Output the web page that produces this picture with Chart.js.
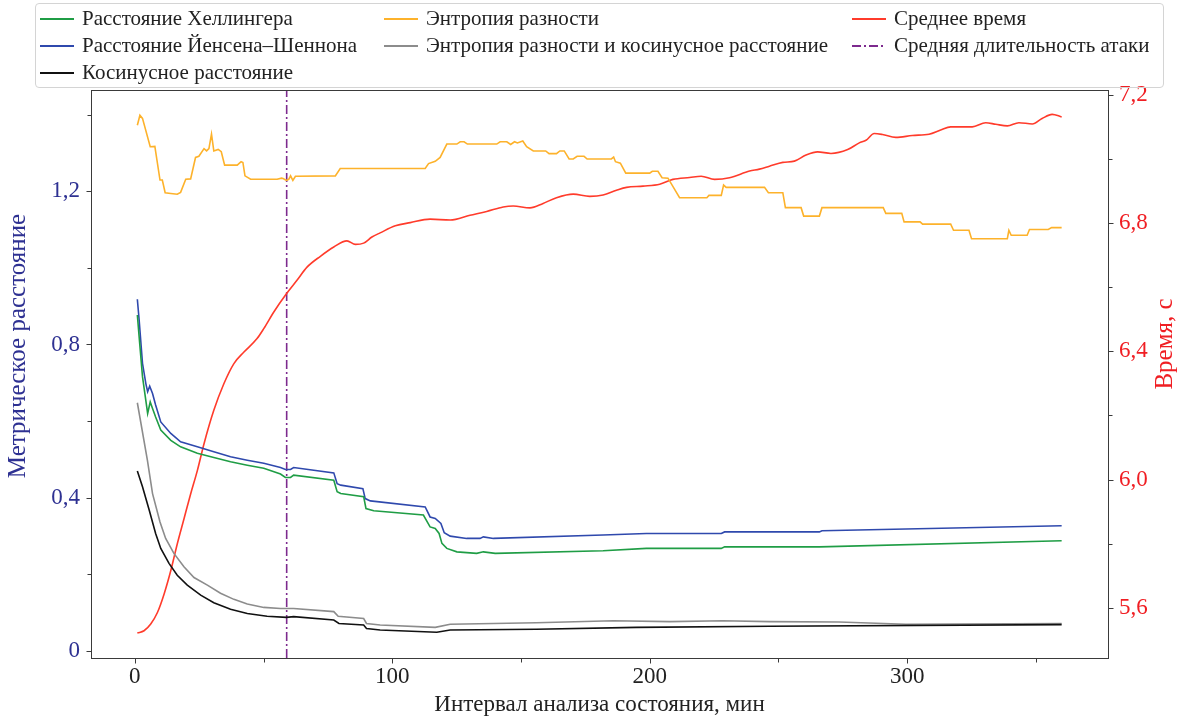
<!DOCTYPE html>
<html>
<head>
<meta charset="utf-8">
<script src="https://cdn.jsdelivr.net/npm/chart.js@4.4.1/dist/chart.umd.min.js"></script>
<style>
    body { margin: 0; background: #fff; }
    #wrap { position: relative; width: 1182px; height: 719px; }
    #legend {
        position: absolute; left: 35px; top: 3px; width: 1129px; height: 85px;
        border: 1px solid #d4d4d4; border-radius: 4px; box-sizing: border-box;
        font-family: "Liberation Serif", serif; font-size: 21px; color: #222;
        display: grid; grid-template-columns: 344px 468px auto;
        grid-template-rows: repeat(3, 27px);
        padding: 1px 0 0 4px; background: transparent;
    }
    .item { display: flex; align-items: center; white-space: nowrap; }
    .item svg { margin-right: 8px; flex: none; }
</style>
</head>
<body>
<div id="wrap">
    <canvas id="chart" width="1182" height="719"></canvas>
    <div id="legend"></div>
</div>
<script>
// x = interval of state analysis, min
const hellinger = [[1,0.877],[1.7,0.820],[3,0.716],[5,0.620],[6,0.650],[6.9,0.633],[8.1,0.611],[10.1,0.577],[14,0.550],[17.8,0.533],[24.3,0.516],[30.7,0.505],[37.2,0.494],[43.7,0.485],[50.1,0.477],[56.6,0.462],[58.5,0.453],[60.5,0.453],[61.7,0.459],[77.3,0.446],[78.6,0.416],[80,0.411],[88.9,0.403],[89.8,0.372],[92.8,0.366],[112.1,0.355],[114.7,0.324],[116.7,0.320],[118.2,0.307],[119.3,0.281],[121.2,0.268],[125.1,0.259],[132.8,0.255],[135.4,0.259],[140,0.255],[181.9,0.262],[198.7,0.268],[227.8,0.268],[229.1,0.272],[265.9,0.272],[360,0.288]];
const jensenShannon = [[1,0.918],[1.7,0.864],[3,0.751],[4.3,0.698],[5,0.677],[5.8,0.691],[6.9,0.672],[8.1,0.642],[10.1,0.598],[14,0.568],[17.8,0.546],[24.3,0.533],[30.7,0.520],[37.2,0.507],[43.7,0.498],[50.1,0.490],[56.6,0.479],[58.5,0.474],[60.5,0.474],[61.7,0.479],[77.3,0.465],[78.6,0.437],[80,0.433],[88.6,0.424],[89.5,0.398],[91.5,0.392],[112.8,0.376],[114.7,0.350],[116.7,0.346],[118.9,0.333],[120.2,0.309],[122.5,0.300],[128.9,0.294],[134.1,0.294],[135.4,0.298],[139.3,0.294],[181.9,0.303],[198.7,0.307],[227.8,0.307],[229.1,0.311],[265.9,0.311],[266.9,0.314],[360,0.327]];
const cosine = [[1,0.470],[3,0.429],[5.6,0.368],[8.1,0.307],[10.1,0.268],[13.3,0.229],[16.5,0.198],[20.4,0.172],[25.6,0.146],[30.7,0.126],[37.2,0.109],[43.7,0.098],[51.4,0.091],[58.9,0.088],[61.7,0.090],[77.3,0.081],[79.3,0.072],[88.9,0.068],[90,0.059],[95.3,0.055],[117.3,0.049],[122.5,0.055],[156,0.057],[194.8,0.062],[246.5,0.065],[360,0.069]];
const entropyDiff = [[1,1.372],[2,1.398],[3,1.390],[6,1.316],[7.8,1.317],[9.8,1.229],[10.7,1.229],[11.8,1.196],[14,1.194],[16.5,1.192],[17.8,1.197],[19.8,1.231],[21.7,1.232],[23.6,1.288],[24.9,1.291],[26.9,1.311],[27.9,1.305],[28.8,1.311],[29.8,1.349],[30.7,1.305],[32.4,1.309],[33.6,1.303],[34.9,1.268],[39.8,1.268],[41.3,1.277],[42,1.275],[42.8,1.240],[45,1.231],[55.3,1.231],[57,1.234],[57.6,1.233],[58.9,1.228],[59.8,1.231],[60.5,1.240],[61.4,1.228],[62.4,1.239],[77.9,1.240],[79.8,1.259],[112.8,1.259],[114.1,1.272],[116.7,1.278],[118.6,1.288],[121.2,1.323],[125.1,1.323],[126.4,1.329],[127.9,1.329],[129.2,1.323],[140.6,1.323],[141.9,1.329],[144.5,1.329],[146,1.322],[147.5,1.329],[148.6,1.326],[150.7,1.331],[152.2,1.316],[154.8,1.305],[159.6,1.305],[160.9,1.298],[163.8,1.298],[165.1,1.305],[166.8,1.305],[168.7,1.284],[170.3,1.284],[171.8,1.291],[174.5,1.291],[175.7,1.284],[185.1,1.284],[186,1.289],[186.7,1.277],[188.6,1.273],[190.7,1.247],[200,1.247],[201,1.252],[203.2,1.252],[204.8,1.235],[207.1,1.234],[211.6,1.183],[222.2,1.183],[223,1.189],[227.8,1.189],[228.7,1.216],[229.7,1.210],[244.6,1.210],[246.1,1.196],[251.7,1.196],[252.7,1.157],[258.8,1.157],[259.8,1.135],[265.9,1.135],[266.9,1.157],[290.7,1.157],[291.7,1.142],[297.9,1.142],[298.8,1.120],[305,1.120],[306,1.114],[316.9,1.114],[318,1.098],[324,1.098],[325,1.076],[338.9,1.076],[339.5,1.098],[340.4,1.085],[346.6,1.085],[347.5,1.100],[354.8,1.100],[356.1,1.105],[360,1.105]];
const entropyCosine = [[1,0.648],[4.9,0.498],[6.9,0.411],[9.8,0.337],[12,0.294],[15.2,0.255],[19.1,0.220],[23,0.192],[28.2,0.172],[33.3,0.151],[38.5,0.135],[43.7,0.123],[50.1,0.114],[56.6,0.111],[61.7,0.111],[77.3,0.103],[79,0.091],[88.9,0.085],[90,0.072],[95.3,0.068],[116.7,0.062],[122.5,0.070],[156,0.074],[185.8,0.079],[207.8,0.077],[228.4,0.079],[246.5,0.077],[273.5,0.076],[299.5,0.070],[360,0.072]];
const meanTime = [[1,5.521],[3.6,5.528],[6.2,5.549],[8.8,5.585],[11.4,5.643],[14,5.716],[16.5,5.799],[19.1,5.877],[21.7,5.955],[24.3,6.028],[26.9,6.112],[30.7,6.216],[34.6,6.299],[38.5,6.362],[42.4,6.398],[47.5,6.440],[50.1,6.471],[54,6.523],[58.9,6.580],[63,6.622],[66.9,6.663],[72.1,6.697],[77.3,6.726],[82.4,6.745],[85.7,6.734],[88.9,6.738],[92.1,6.757],[95.3,6.770],[101.2,6.792],[107,6.802],[114.7,6.813],[122.5,6.810],[130.2,6.825],[136.7,6.837],[143.1,6.851],[147,6.854],[153.5,6.848],[158.6,6.862],[163.8,6.880],[170.3,6.891],[176.7,6.884],[181.9,6.888],[187.1,6.903],[191,6.912],[197.4,6.916],[203.9,6.922],[209,6.937],[215.5,6.943],[220,6.947],[225.2,6.937],[231,6.942],[238.8,6.963],[242.6,6.969],[246.5,6.978],[251.7,6.990],[256.2,6.994],[260.7,7.013],[265.2,7.023],[270.4,7.018],[276.9,7.030],[281.4,7.051],[284,7.059],[287.2,7.080],[290.4,7.077],[295.6,7.068],[302,7.074],[308.5,7.078],[313,7.091],[316.9,7.101],[325.3,7.101],[330.5,7.114],[334.4,7.109],[338.9,7.104],[343.4,7.114],[348.6,7.110],[352.4,7.127],[356.3,7.140],[360,7.132]];
const attackDuration = 59;

const xTicks = [0, 50, 100, 150, 200, 250, 300, 350];
const leftTicks = [0, 0.2, 0.4, 0.6, 0.8, 1.0, 1.2, 1.4];
const rightTicks = [5.6, 5.8, 6.0, 6.2, 6.4, 6.6, 6.8, 7.0, 7.2];

const xRange = [-17, 378];
const leftRange = [-0.018, 1.464];
const rightRange = [5.443, 7.216];

const serif = "'Liberation Serif', serif";
const blueInk = '#2e3192';
const redInk = '#f01e23';

function toXY(pairs) {
    return pairs.map(p => ({ x: p[0], y: p[1] }));
}

function comma(v, digits) {
    return v.toFixed(digits).replace('.', ',');
}

// box around the plot, tick marks (short ones for minor ticks) and rotated y titles
const frame = {
    id: 'frame',
    afterDraw(chart) {
        const a = chart.chartArea;
        const ctx = chart.ctx;
        const sx = chart.scales.x, sy = chart.scales.y, sr = chart.scales.y2;
        const L = Math.round(a.left) + 0.5, R = Math.round(a.right) + 0.5;
        const T = Math.round(a.top) + 0.5, B = Math.round(a.bottom) + 0.5;
        ctx.save();
        ctx.strokeStyle = '#3a3a3a';
        ctx.lineWidth = 1;
        ctx.strokeRect(L, T, R - L, B - T);

        ctx.beginPath();
        xTicks.forEach(v => {
            const px = Math.round(sx.getPixelForValue(v)) + 0.5;
            ctx.moveTo(px, B); ctx.lineTo(px, B + (v % 100 === 0 ? 5 : 4));
        });
        leftTicks.forEach(v => {
            const py = Math.round(sy.getPixelForValue(v)) + 0.5;
            ctx.moveTo(L, py); ctx.lineTo(L - (Math.round(v * 10) % 4 === 0 ? 5 : 4), py);
        });
        rightTicks.forEach(v => {
            const py = Math.round(sr.getPixelForValue(v)) + 0.5;
            ctx.moveTo(R, py); ctx.lineTo(R + (Math.round(v * 10) % 4 === 0 ? 5 : 4), py);
        });
        ctx.stroke();

        ctx.font = "25px " + serif;
        ctx.textAlign = 'center';
        ctx.textBaseline = 'middle';
        ctx.fillStyle = blueInk;
        ctx.translate(18, 346);
        ctx.rotate(-Math.PI / 2);
        ctx.fillText('Метрическое расстояние', 0, 0);
        ctx.setTransform(1, 0, 0, 1, 0, 0);
        ctx.fillStyle = redInk;
        ctx.translate(1165, 344);
        ctx.rotate(-Math.PI / 2);
        ctx.fillText('Время, с', 0, 0);
        ctx.restore();
    }
};

const line = (label, pairs, color, axis) => ({
    label: label,
    data: toXY(pairs),
    borderColor: color,
    backgroundColor: color,
    borderWidth: 1.6,
    pointRadius: 0,
    yAxisID: axis,
    tension: 0
});

const datasets = [
    line('Расстояние Хеллингера', hellinger, '#1f9d45', 'y'),
    line('Расстояние Йенсена–Шеннона', jensenShannon, '#2f49ad', 'y'),
    line('Косинусное расстояние', cosine, '#111111', 'y'),
    line('Энтропия разности', entropyDiff, '#fdb22b', 'y'),
    line('Энтропия разности и косинусное расстояние', entropyCosine, '#8c8c8c', 'y'),
    Object.assign(line('Среднее время', meanTime, '#ff3b2b', 'y2'), { cubicInterpolationMode: 'monotone' }),
    Object.assign(line('Средняя длительность атаки', [[attackDuration, leftRange[0]], [attackDuration, leftRange[1]]], '#7d2a8e', 'y'), { borderDash: [9, 3, 2, 3] })
];

const noGrid = { display: false, drawTicks: false };

const chart = new Chart(document.getElementById('chart'), {
    type: 'line',
    data: { datasets: datasets },
    plugins: [frame],
    options: {
        responsive: false,
        animation: false,
        layout: { padding: { top: 90, left: 0, right: 0, bottom: 0 } },
        plugins: { legend: { display: false }, tooltip: { enabled: false } },
        scales: {
            x: {
                type: 'linear', min: xRange[0], max: xRange[1],
                afterFit: s => { s.height = 61; },
                afterBuildTicks: s => { s.ticks = xTicks.map(v => ({ value: v })); },
                grid: noGrid,
                border: { display: false },
                ticks: {
                    font: { family: serif, size: 23 }, color: '#222', padding: 5, maxRotation: 0,
                    callback: v => (v % 100 === 0 ? String(v) : '')
                },
                title: { display: true, text: 'Интервал анализа состояния, мин', font: { family: serif, size: 23 }, color: '#222', padding: { top: 0, bottom: 0 } }
            },
            y: {
                position: 'left', min: leftRange[0], max: leftRange[1],
                afterFit: s => { s.width = 91; },
                afterBuildTicks: s => { s.ticks = leftTicks.map(v => ({ value: v })); },
                grid: noGrid,
                border: { display: false },
                ticks: {
                    font: { family: serif, size: 23 }, color: blueInk, padding: 11,
                    callback: v => {
                        const i = Math.round(v * 10);
                        if (i % 4 !== 0) return '';
                        return i === 0 ? '0' : comma(v, 1);
                    }
                }
            },
            y2: {
                position: 'right', min: rightRange[0], max: rightRange[1],
                afterFit: s => { s.width = 74; },
                afterBuildTicks: s => { s.ticks = rightTicks.map(v => ({ value: v })); },
                grid: noGrid,
                border: { display: false },
                ticks: {
                    font: { family: serif, size: 23 }, color: redInk, padding: 11,
                    callback: v => (Math.round(v * 10) % 4 === 0 ? comma(v, 1) : '')
                }
            }
        }
    }
});

// matplotlib-style legend: 3 columns filled top to bottom (3, 2, 2 entries)
const legendSlots = [[1, 1], [1, 2], [1, 3], [2, 1], [2, 2], [3, 1], [3, 2]];
const legend = document.getElementById('legend');
chart.data.datasets.forEach((ds, i) => {
    const item = document.createElement('div');
    item.className = 'item';
    item.style.gridColumn = legendSlots[i][0];
    item.style.gridRow = legendSlots[i][1];
    const dash = ds.borderDash ? ds.borderDash.join(' ') : 'none';
    item.innerHTML = '<svg width="34" height="10"><line x1="0" y1="5" x2="34" y2="5" stroke="' + ds.borderColor +
        '" stroke-width="1.8" stroke-dasharray="' + dash + '"/></svg><span>' + ds.label + '</span>';
    legend.appendChild(item);
});
</script>
</body>
</html>
